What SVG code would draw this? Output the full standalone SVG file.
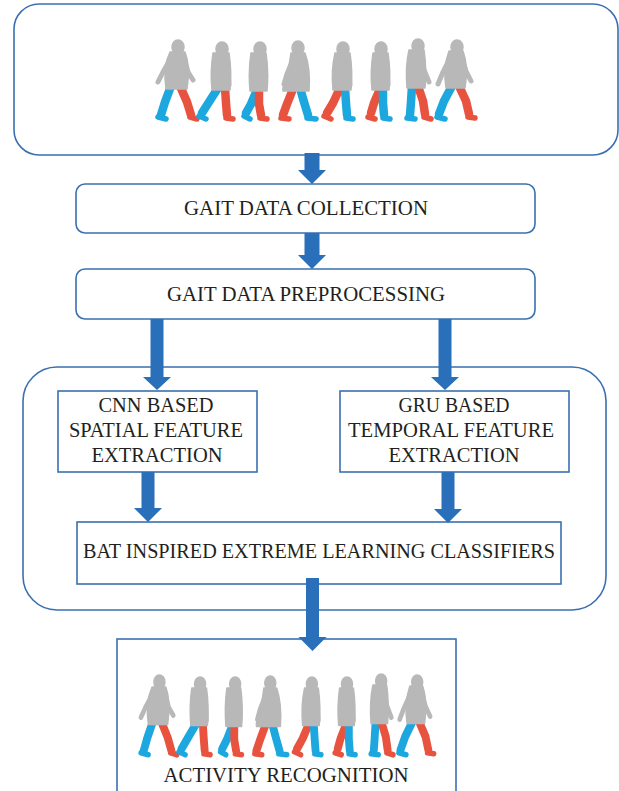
<svg xmlns="http://www.w3.org/2000/svg" xmlns:xlink="http://www.w3.org/1999/xlink" width="619" height="791" viewBox="0 0 619 791">
  <style>
    .box { fill: #ffffff; stroke: #3a70b0; stroke-width: 1.6; }
    .lbl { font-family: "Liberation Serif", "Times New Roman", serif; font-size: 20px; fill: #231f20; text-anchor: middle; }
    .arrow { fill: #2a6fb9; }
    .body { fill: #b8b8b8; stroke: #b8b8b8; stroke-width: 1.5; stroke-linejoin: round; }
    .arm { fill: none; stroke: #b8b8b8; stroke-width: 5; stroke-linecap: round; stroke-linejoin: round; }
    .legB { fill: none; stroke: #1ca7df; stroke-width: 8.5; stroke-linecap: round; stroke-linejoin: round; }
    .legR { fill: none; stroke: #e8533f; stroke-width: 8.5; stroke-linecap: round; stroke-linejoin: round; }
    .footB { fill: none; stroke: #1ca7df; stroke-width: 5.5; stroke-linecap: round; }
    .footR { fill: none; stroke: #e8533f; stroke-width: 5.5; stroke-linecap: round; }
  </style>
  <defs>
    <!-- a row of eight walking silhouettes (gray body, blue and red legs) -->
    <g id="walkers">
      <!-- 1 -->
      <g>
        <path class="legB" d="M171,86 L165,102 L161,115"/>
        <path class="footB" d="M158,117 L166,119"/>
        <path class="legR" d="M180,86 L187,102 L191,115"/>
        <path class="footR" d="M190,117 L197,119"/>
        <path class="body" d="M170,52 L185,52 C189,62 189,76 187,89 L166,89 C164,76 165,62 170,52 Z"/>
        <ellipse class="body" cx="178" cy="47" rx="6" ry="7"/>
        <path class="arm" d="M171,58 L163,72 L158,82"/>
        <path class="arm" d="M184,58 L188,72 L193,80"/>
      </g>
      <!-- 2 -->
      <g>
        <path class="legB" d="M218,88 L209,102 L202,113"/>
        <path class="footB" d="M199,116 L206,119"/>
        <path class="legR" d="M225,88 L226,103 L227,115"/>
        <path class="footR" d="M226,118 L233,119"/>
        <path class="body" d="M213,53 L229,53 C231,66 231,80 230,90 L212,90 C211,80 211,66 213,53 Z"/>
        <ellipse class="body" cx="222" cy="49" rx="6" ry="7"/>
        <path class="arm" d="M226,60 L228,72 L229,85"/>
      </g>
      <!-- 3 -->
      <g>
        <path class="legB" d="M257,90 L251,104 L246,113"/>
        <path class="footB" d="M244,116 L250,119"/>
        <path class="legR" d="M259,89 L259,104 L261,115"/>
        <path class="footR" d="M260,118 L267,119"/>
        <path class="body" d="M251,53 L266,53 C268,66 268,80 267,91 L250,91 C249,80 249,66 251,53 Z"/>
        <ellipse class="body" cx="260" cy="49" rx="6" ry="7"/>
        <path class="arm" d="M262,60 L264,73 L265,85"/>
      </g>
      <!-- 4 -->
      <g>
        <path class="legR" d="M293,89 L287,104 L283,115"/>
        <path class="footR" d="M281,118 L289,119"/>
        <path class="legB" d="M300,88 L304,102 L308,115"/>
        <path class="footB" d="M307,118 L316,119"/>
        <path class="body" d="M291,53 L305,53 C309,64 310,78 309,91 L283,91 C282,84 287,76 289,66 Z"/>
        <ellipse class="body" cx="298" cy="48" rx="6" ry="7"/>
        <path class="arm" d="M292,62 L287,74 L284,84"/>
      </g>
      <!-- 5 -->
      <g>
        <path class="legR" d="M340,88 L333,103 L327,113"/>
        <path class="footR" d="M324,116 L331,119"/>
        <path class="legB" d="M345,88 L346,103 L347,115"/>
        <path class="footB" d="M346,118 L353,119"/>
        <path class="body" d="M335,53 L350,53 C352,66 352,80 351,90 L333,90 C332,80 332,66 335,53 Z"/>
        <ellipse class="body" cx="343" cy="49" rx="6" ry="7"/>
        <path class="arm" d="M347,60 L349,73 L350,85"/>
      </g>
      <!-- 6 -->
      <g>
        <path class="legR" d="M380,89 L374,103 L371,113"/>
        <path class="footR" d="M368,117 L375,119"/>
        <path class="legB" d="M383,88 L383,103 L384,115"/>
        <path class="footB" d="M383,118 L390,119"/>
        <path class="body" d="M373,53 L388,53 C390,66 390,80 389,90 L372,90 C371,80 371,66 373,53 Z"/>
        <ellipse class="body" cx="381" cy="49" rx="6" ry="7"/>
        <path class="arm" d="M385,60 L387,73 L388,85"/>
      </g>
      <!-- 7 -->
      <g>
        <path class="legB" d="M412,86 L411,102 L410,115"/>
        <path class="footB" d="M407,118 L415,119"/>
        <path class="legR" d="M418,86 L423,101 L425,114"/>
        <path class="footR" d="M424,117 L431,119"/>
        <path class="body" d="M409,50 L424,50 C426,63 426,76 425,88 L407,88 C406,76 406,63 409,50 Z"/>
        <ellipse class="body" cx="418" cy="46" rx="6" ry="7"/>
        <path class="arm" d="M420,57 L424,70 L429,82"/>
      </g>
      <!-- 8 -->
      <g>
        <path class="legB" d="M452,86 L444,101 L439,114"/>
        <path class="footB" d="M437,117 L445,119"/>
        <path class="legR" d="M459,86 L466,101 L469,114"/>
        <path class="footR" d="M468,117 L475,118"/>
        <path class="body" d="M449,51 L463,51 C467,62 467,76 465,88 L446,88 C444,76 445,62 449,51 Z"/>
        <ellipse class="body" cx="457" cy="47" rx="6" ry="7"/>
        <path class="arm" d="M450,58 L443,72 L438,84"/>
        <path class="arm" d="M462,58 L466,71 L471,81"/>
      </g>
    </g>
  </defs>

  <!-- nodes -->
  <g id="gait-images">
    <rect class="box" x="14" y="4" width="604" height="151" rx="25" ry="25"/>
    <use xlink:href="#walkers" href="#walkers"/>
  </g>

  <g id="gait-data-collection">
    <rect class="box" x="76" y="184" width="459" height="49" rx="9" ry="9"/>
    <text class="lbl" x="306" y="215" textLength="244" lengthAdjust="spacingAndGlyphs">GAIT DATA COLLECTION</text>
  </g>

  <g id="gait-data-preprocessing">
    <rect class="box" x="76" y="269" width="459" height="50" rx="9" ry="9"/>
    <text class="lbl" x="306" y="301" textLength="278" lengthAdjust="spacingAndGlyphs">GAIT DATA PREPROCESSING</text>
  </g>

  <g id="feature-block">
    <rect class="box" x="23" y="367" width="583" height="243" rx="34" ry="34"/>
  </g>

  <g id="cnn-spatial">
    <rect class="box" x="58" y="391" width="199" height="81"/>
    <text class="lbl" x="156" y="412" textLength="115" lengthAdjust="spacingAndGlyphs">CNN BASED</text>
    <text class="lbl" x="156" y="437" textLength="174" lengthAdjust="spacingAndGlyphs">SPATIAL FEATURE</text>
    <text class="lbl" x="157" y="462" textLength="131" lengthAdjust="spacingAndGlyphs">EXTRACTION</text>
  </g>

  <g id="gru-temporal">
    <rect class="box" x="340" y="391" width="229" height="81"/>
    <text class="lbl" x="454" y="412" textLength="111" lengthAdjust="spacingAndGlyphs">GRU BASED</text>
    <text class="lbl" x="451" y="437" textLength="206" lengthAdjust="spacingAndGlyphs">TEMPORAL FEATURE</text>
    <text class="lbl" x="454" y="462" textLength="131" lengthAdjust="spacingAndGlyphs">EXTRACTION</text>
  </g>

  <g id="bat-elm">
    <rect class="box" x="77" y="522" width="484" height="62"/>
    <text class="lbl" x="319" y="558" textLength="472" lengthAdjust="spacingAndGlyphs">BAT INSPIRED EXTREME LEARNING CLASSIFIERS</text>
  </g>

  <g id="activity-recognition">
    <rect class="box" x="117" y="639" width="339" height="160"/>
    <use xlink:href="#walkers" href="#walkers" transform="translate(140,675) scale(0.924,1.01) translate(-157,-40)"/>
    <text class="lbl" x="286" y="782" textLength="245" lengthAdjust="spacingAndGlyphs">ACTIVITY RECOGNITION</text>
  </g>

  <!-- connectors: block arrows -->
  <g id="connectors">
    <path class="arrow" d="M304.5,153 H319.5 V170 H326 L312,184 L298,170 H304.5 Z"/>
    <path class="arrow" d="M304.5,233 H319.5 V255 H326 L312,269 L298,255 H304.5 Z"/>
    <path class="arrow" d="M150.5,319 H163.5 V377 H171 L157,390 L143,377 H150.5 Z"/>
    <path class="arrow" d="M438.5,319 H451.5 V377 H459 L445,390 L431,377 H438.5 Z"/>
    <path class="arrow" d="M141.5,472 H154.5 V508 H162 L148,522 L134,508 H141.5 Z"/>
    <path class="arrow" d="M441.5,472 H454.5 V509 H462 L448,523 L434,509 H441.5 Z"/>
    <path class="arrow" d="M306,578 H319 V637 H326.5 L312.5,651 L298.5,637 H306 Z"/>
  </g>
</svg>
